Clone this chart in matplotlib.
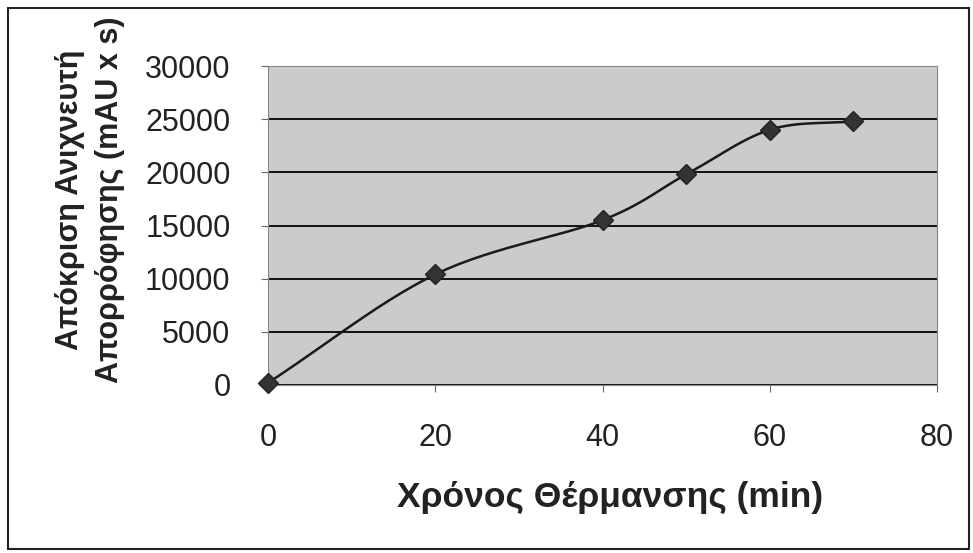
import numpy as np
import matplotlib
matplotlib.use("Agg")
import matplotlib.pyplot as plt
from matplotlib.patches import Rectangle

# Data
time_min = [0, 20, 40, 50, 60, 70]
response = [200, 10400, 15500, 19800, 24000, 24800]
x_ticks = [0, 20, 40, 60, 80]
y_ticks = [0, 5000, 10000, 15000, 20000, 25000, 30000]
x_label = "Χρόνος Θέρμανσης (min)"
y_label = "Απόκριση Ανιχνευτή\nΑπορρόφησης (mAU x s)"


def catmull_rom(xs, ys, n=30):
    xs = np.asarray(xs, float)
    ys = np.asarray(ys, float)
    px = np.concatenate([[2 * xs[0] - xs[1]], xs, [2 * xs[-1] - xs[-2]]])
    py = np.concatenate([[2 * ys[0] - ys[1]], ys, [2 * ys[-1] - ys[-2]]])
    outx, outy = [], []
    for i in range(1, len(px) - 2):
        t = np.linspace(0, 1, n)
        p0, p1, p2, p3 = (np.array([px[j], py[j]]) for j in range(i - 1, i + 3))
        c1 = p1 + (p2 - p0) / 6
        c2 = p2 - (p3 - p1) / 6
        b = ((1 - t) ** 3)[:, None] * p1 + (3 * (1 - t) ** 2 * t)[:, None] * c1 \
            + (3 * (1 - t) * t ** 2)[:, None] * c2 + (t ** 3)[:, None] * p2
        outx.extend(b[:, 0])
        outy.extend(b[:, 1])
    return np.array(outx), np.array(outy)


plt.rcParams['font.family'] = ['Liberation Sans', 'DejaVu Sans']

fig = plt.figure(figsize=(9.73, 5.53), dpi=100)
W, H = 973, 553
left, right, top, bottom = 268, 937, 66, 385
ax = fig.add_axes([left / W, 1 - bottom / H, (right - left) / W, (bottom - top) / H])

# outer border
fig.patches.append(Rectangle((8 / W, 4 / H), (969 - 8) / W, (545 - 4) / H,
                             transform=fig.transFigure, fill=False,
                             edgecolor='#222222', linewidth=1.5))

ax.set_facecolor('#cbcbcb')
ax.set_xlim(0, 80)
ax.set_ylim(0, 30000)
ax.set_xticks(x_ticks)
ax.set_yticks(y_ticks)
ax.set_xticklabels([str(v) for v in x_ticks], fontsize=22, color='#222222')
ax.set_yticklabels([str(v) for v in y_ticks], fontsize=22, color='#222222')
ax.tick_params(axis='x', direction='out', length=5, width=0.8, pad=22, colors='#666666', labelcolor='#222222')
ax.tick_params(axis='y', direction='out', length=5, width=0.8, pad=22, colors='#666666', labelcolor='#222222')
ax.yaxis.grid(True, color='#111111', linewidth=1.4)
ax.set_axisbelow(True)
for s in ax.spines.values():
    s.set_color('#888888')
    s.set_linewidth(0.8)

sx, sy = catmull_rom(time_min, response)
ax.plot(sx, sy, color='#1a1a1a', linewidth=1.8, zorder=3)
ax.plot(time_min, response, linestyle='none', marker='D', markersize=10,
        color='#333333', markeredgecolor='#222222', zorder=4, clip_on=False)

fig.text(610 / W, 1 - 497 / H, x_label, fontsize=25.5, fontweight='bold',
         color='#222222', ha='center', va='center')
fig.text(90 / W, 1 - 200 / H, y_label, fontsize=22, fontweight='bold',
         color='#222222', ha='center', va='center', rotation=90,
         multialignment='center', linespacing=1.4)

fig.savefig('out.png', dpi=100, facecolor='white')
